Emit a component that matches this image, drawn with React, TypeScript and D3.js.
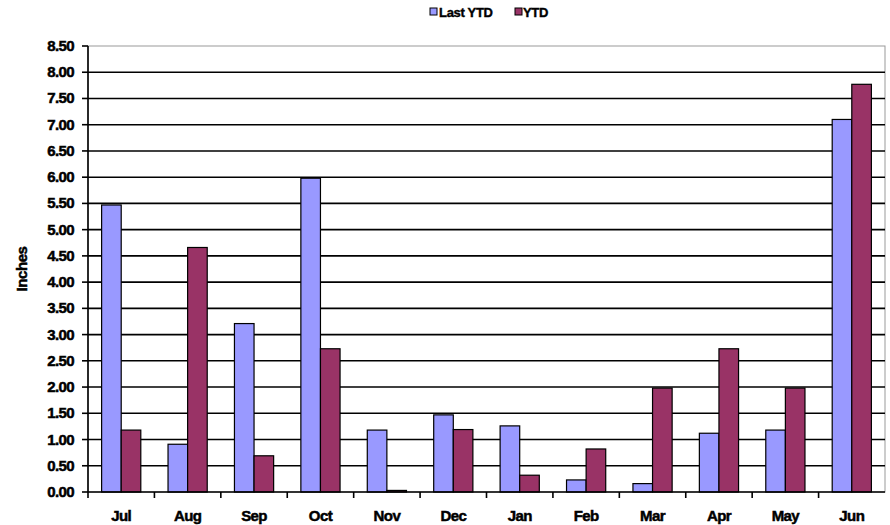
import React from "react";
import * as d3 from "d3";

const months = ["Jul", "Aug", "Sep", "Oct", "Nov", "Dec", "Jan", "Feb", "Mar", "Apr", "May", "Jun"];
const lastYTD = [5.47, 0.91, 3.21, 5.98, 1.18, 1.47, 1.26, 0.23, 0.16, 1.12, 1.18, 7.1];
const ytd = [1.18, 4.66, 0.69, 2.73, 0.03, 1.19, 0.32, 0.82, 1.98, 2.73, 1.98, 7.77];
const seriesNames = ["Last YTD", "YTD"];
const seriesColors = ["#9999FF", "#993366"];
const yTicks = d3.range(0, 8.51, 0.5);

const W = 890;
const H = 525;
const M = { left: 88, right: 885, top: 46, bottom: 492 };
const font = "'Liberation Sans', Arial, sans-serif";

export default function App() {
  const x = d3.scaleBand<string>().domain(months).range([M.left, M.right]).paddingInner(0).paddingOuter(0);
  const y = d3.scaleLinear().domain([0, 8.5]).range([M.bottom, M.top]);
  const bw = x.bandwidth();
  const barW = bw * 0.295;
  const groupOff = (bw - 2 * barW) / 2;
  const series = [lastYTD, ytd];
  const txt = { fontWeight: "bold" as const, stroke: "#000", strokeWidth: 0.5 };

  return (
    <svg width={W} height={H} style={{ position: "fixed", left: 0, top: 0, background: "#fff" }} fontFamily={font}>
      <rect x={0} y={0} width={W} height={H} fill="#fff" />
      <rect x={M.left} y={M.top} width={M.right - M.left} height={M.bottom - M.top} fill="none" stroke="#999" strokeWidth={1} />
      {yTicks.filter((t) => t > 0 && t < 8.5).map((t) => (
        <line key={t} x1={M.left} x2={M.right} y1={y(t)} y2={y(t)} stroke="#000" strokeWidth={1.6} />
      ))}
      {months.map((m, i) => (
        <g key={m}>
          {series.map((s, si) => (
            <rect
              key={si}
              x={(x(m) as number) + groupOff + si * barW}
              y={y(s[i])}
              width={barW}
              height={y(0) - y(s[i])}
              fill={seriesColors[si]}
              stroke="#000"
              strokeWidth={1.2}
            />
          ))}
        </g>
      ))}
      <line x1={M.left} x2={M.left} y1={M.top} y2={M.bottom} stroke="#000" strokeWidth={1.6} />
      {yTicks.map((t) => (
        <g key={t}>
          <line x1={M.left - 6} x2={M.left} y1={y(t)} y2={y(t)} stroke="#000" strokeWidth={1.6} />
          <text x={74} y={y(t) + 5} textAnchor="end" fontSize={15} letterSpacing={-0.6} {...txt}>
            {t.toFixed(2)}
          </text>
        </g>
      ))}
      <line x1={M.left} x2={M.right} y1={M.bottom} y2={M.bottom} stroke="#000" strokeWidth={1.6} />
      {months.map((m) => (
        <g key={m}>
          <line x1={x(m) as number} x2={x(m) as number} y1={M.bottom} y2={M.bottom + 6} stroke="#000" strokeWidth={1.6} />
          <text x={(x(m) as number) + bw / 2} y={521} textAnchor="middle" fontSize={15} letterSpacing={-0.6} {...txt}>
            {m}
          </text>
        </g>
      ))}
      <text transform={`translate(27, ${(M.top + M.bottom) / 2}) rotate(-90)`} textAnchor="middle" fontSize={15} letterSpacing={-0.4} {...txt}>
        Inches
      </text>
      <g>
        <rect x={430} y={8} width={7} height={7} fill={seriesColors[0]} stroke="#000" strokeWidth={1} />
        <text x={439} y={17} fontSize={13} letterSpacing={-0.3} {...txt} strokeWidth={0.4}>{seriesNames[0]}</text>
        <rect x={515} y={8} width={7} height={7} fill={seriesColors[1]} stroke="#000" strokeWidth={1} />
        <text x={523} y={17} fontSize={13} letterSpacing={-0.3} {...txt} strokeWidth={0.4}>{seriesNames[1]}</text>
      </g>
    </svg>
  );
}
